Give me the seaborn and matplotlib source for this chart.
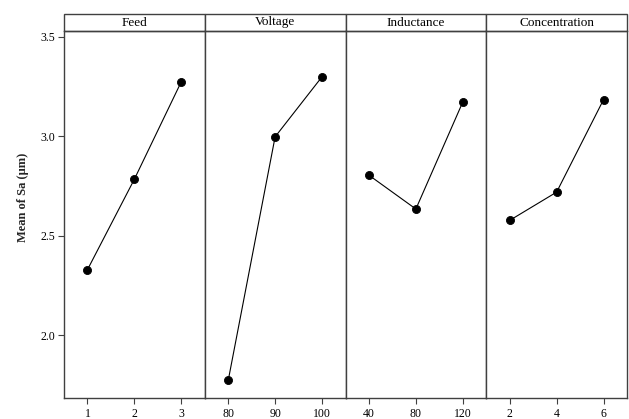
import matplotlib
matplotlib.use("Agg")
import matplotlib.pyplot as plt
import seaborn as sns
import pandas as pd
from matplotlib.patches import Rectangle

factors = ["Feed", "Voltage", "Inductance", "Concentration"]
feed_levels = ["1", "2", "3"]
feed_means = [2.33, 2.785, 3.275]
voltage_levels = ["80", "90", "100"]
voltage_means = [1.773, 2.998, 3.30]
inductance_levels = ["40", "80", "120"]
inductance_means = [2.805, 2.635, 3.173]
concentration_levels = ["2", "4", "6"]
concentration_means = [2.578, 2.72, 3.185]

levels = [feed_levels, voltage_levels, inductance_levels, concentration_levels]
means = [feed_means, voltage_means, inductance_means, concentration_means]

sns.set_theme(style="white")
plt.rcParams["font.family"] = ["Liberation Serif", "DejaVu Serif"]

fig, axes = plt.subplots(1, 4, sharey=True, figsize=(6.29, 4.19), dpi=100)
fig.subplots_adjust(left=64/629, right=627/629, top=1-31/419, bottom=1-398/419, wspace=0)

edge = "#404040"
strip_h = 17 / 367

for i, (ax, name, lv, mv) in enumerate(zip(axes, factors, levels, means)):
    df = pd.DataFrame({"level": lv, "mean": mv})
    sns.pointplot(data=df, x="level", y="mean", order=lv, ax=ax, color="black",
                  markers="o", markersize=5.8, linewidth=0.8, errorbar=None)
    ax.set_xlim(-0.5, len(lv) - 0.5)
    ax.set_xlabel("")
    ax.set_ylabel("")
    for s in ax.spines.values():
        s.set_color(edge)
        s.set_linewidth(1.0)
    ax.tick_params(axis="x", bottom=True, length=4, width=0.8, color=edge,
                   labelsize=8.5, pad=3, labelcolor="black")
    if i == 0:
        ax.tick_params(axis="y", left=True, length=4, width=0.8, color=edge,
                       labelsize=8.5, pad=2, labelcolor="black")
    else:
        ax.tick_params(axis="y", left=False)
    rect = Rectangle((0, 1), 1, strip_h, transform=ax.transAxes, clip_on=False,
                     facecolor="white", edgecolor=edge, linewidth=1.0)
    ax.add_patch(rect)
    ax.text(0.5, 1 + strip_h / 2, name, transform=ax.transAxes, ha="center",
            va="center", fontsize=9.5, color="black")

axes[0].set_ylim(1.685, 3.53)
axes[0].set_yticks([2.0, 2.5, 3.0, 3.5])
axes[0].set_yticklabels(["2.0", "2.5", "3.0", "3.5"])
fig.text(23/629, 1 - 197/419, "Mean of Sa (\u03bcm)", rotation=90, ha="center",
         va="center", fontsize=9, fontweight="bold")

fig.savefig("out.png", dpi=100)
